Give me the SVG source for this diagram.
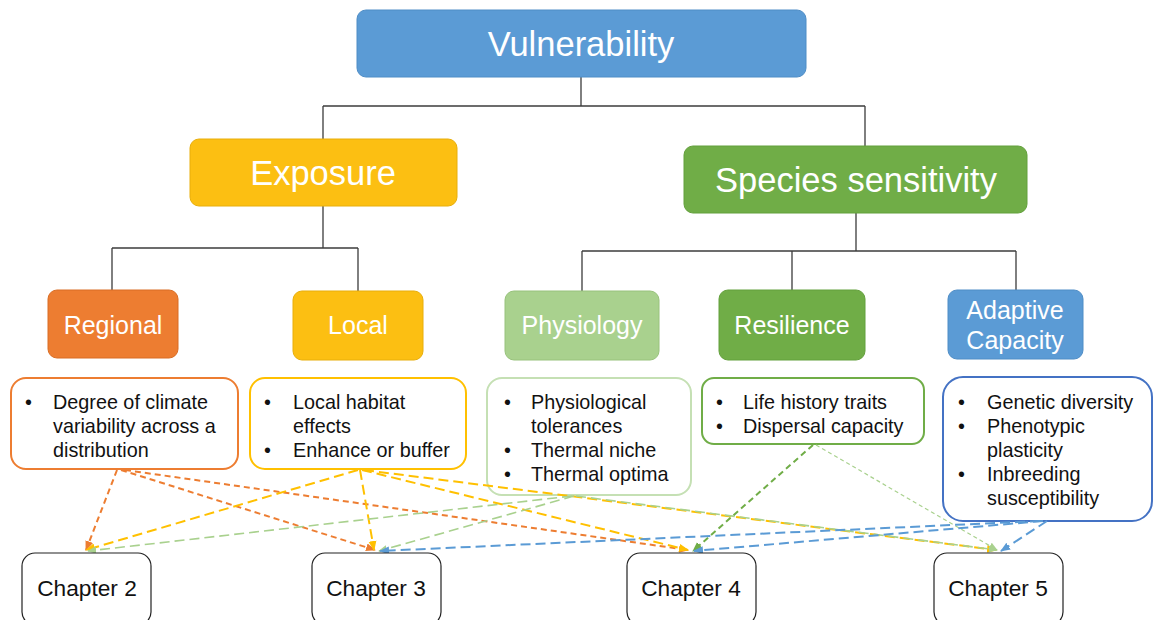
<svg xmlns="http://www.w3.org/2000/svg" width="1154" height="620" viewBox="0 0 1154 620">
  <style>
    text { font-family: "Liberation Sans", Arial, sans-serif; }
    .hdr { fill: #ffffff; text-anchor: middle; }
    .big { font-size: 34.5px; }
    .mid { font-size: 25px; }
    .item { font-size: 19.8px; fill: #111111; }
    .chap { font-size: 22.7px; fill: #111111; text-anchor: middle; }
    .tree { fill: none; stroke: #3c3c3c; stroke-width: 1.3; }
    .note { fill: #ffffff; stroke-width: 2; }
    .chbox { fill: #ffffff; stroke: #222222; stroke-width: 1.2; }
    .link { fill: none; stroke-width: 2; }
    .orange { stroke: #ED7D31; stroke-dasharray: 6 4; }
    .gold { stroke: #FFC000; stroke-dasharray: 10 5; }
    .pale { stroke: #A9D18E; stroke-dasharray: 10 5; stroke-width: 1.6; }
    .palethin { stroke: #A9D18E; stroke-dasharray: 4 3; stroke-width: 1.2; }
    .green { stroke: #70AD47; stroke-dasharray: 6 4; }
    .blue { stroke: #5B9BD5; stroke-dasharray: 10 5; }
  </style>
  <defs>
    <marker id="ah-orange" markerUnits="userSpaceOnUse" markerWidth="10" markerHeight="10" viewBox="0 0 10 10" refX="9" refY="5" orient="auto"><path d="M0,1 L10,5 L0,9 Z" fill="#ED7D31"/></marker>
    <marker id="ah-gold" markerUnits="userSpaceOnUse" markerWidth="10" markerHeight="10" viewBox="0 0 10 10" refX="9" refY="5" orient="auto"><path d="M0,1 L10,5 L0,9 Z" fill="#FFC000"/></marker>
    <marker id="ah-pale" markerUnits="userSpaceOnUse" markerWidth="9" markerHeight="9" viewBox="0 0 10 10" refX="9" refY="5" orient="auto"><path d="M0,1 L10,5 L0,9 Z" fill="#A9D18E"/></marker>
    <marker id="ah-green" markerUnits="userSpaceOnUse" markerWidth="10" markerHeight="10" viewBox="0 0 10 10" refX="9" refY="5" orient="auto"><path d="M0,1 L10,5 L0,9 Z" fill="#70AD47"/></marker>
    <marker id="ah-blue" markerUnits="userSpaceOnUse" markerWidth="10" markerHeight="10" viewBox="0 0 10 10" refX="9" refY="5" orient="auto"><path d="M0,1 L10,5 L0,9 Z" fill="#5B9BD5"/></marker>
  </defs>

  <rect width="1154" height="620" fill="#ffffff"/>

  <!-- hierarchy lines -->
  <g id="tree-lines" class="tree">
    <path d="M581,77 V106 M323,106 H865 M323,106 V139 M865,106 V146"/>
    <path d="M323,206 V248 M112,248 H358 M112,248 V290 M358,248 V291"/>
    <path d="M856,213 V251 M582,251 H1016 M582,251 V291 M792,251 V290 M1016,251 V290"/>
  </g>

  <!-- top level -->
  <g id="vulnerability">
    <rect x="357" y="10" width="449" height="67" rx="9" fill="#5B9BD5" stroke="#4f8dc6" stroke-width="1"/>
    <text class="hdr big" x="581" y="56">Vulnerability</text>
  </g>

  <!-- second level -->
  <g id="exposure">
    <rect x="190" y="139" width="267" height="67" rx="9" fill="#FCBF12" stroke="#e8ae0a" stroke-width="1"/>
    <text class="hdr big" x="323" y="185">Exposure</text>
  </g>
  <g id="species-sensitivity">
    <rect x="684" y="146" width="343" height="67" rx="9" fill="#70AD47" stroke="#63a03c" stroke-width="1"/>
    <text class="hdr big" x="856" y="192">Species sensitivity</text>
  </g>

  <!-- third level -->
  <g id="regional">
    <rect x="48" y="290" width="130" height="68" rx="9" fill="#ED7D31" stroke="#d96d24" stroke-width="1"/>
    <text class="hdr mid" x="113" y="334">Regional</text>
  </g>
  <g id="local">
    <rect x="293" y="291" width="130" height="69" rx="9" fill="#FCBF12" stroke="#e8ae0a" stroke-width="1"/>
    <text class="hdr mid" x="358" y="334">Local</text>
  </g>
  <g id="physiology">
    <rect x="505" y="291" width="154" height="69" rx="9" fill="#A9D18E" stroke="#98c27c" stroke-width="1"/>
    <text class="hdr mid" x="582" y="334">Physiology</text>
  </g>
  <g id="resilience">
    <rect x="719" y="290" width="146" height="70" rx="9" fill="#70AD47" stroke="#63a03c" stroke-width="1"/>
    <text class="hdr mid" x="792" y="334">Resilience</text>
  </g>
  <g id="adaptive-capacity">
    <rect x="948" y="290" width="135" height="69" rx="9" fill="#5B9BD5" stroke="#4f8dc6" stroke-width="1"/>
    <text class="hdr mid" x="1015" y="319">Adaptive</text>
    <text class="hdr mid" x="1015" y="349">Capacity</text>
  </g>

  <!-- detail lists -->
  <g id="regional-notes">
    <rect class="note" x="11" y="378" width="227" height="91" rx="15" stroke="#ED7D31"/>
    <text class="item" x="25" y="409">•</text>
    <text class="item" x="53" y="409">Degree of climate</text>
    <text class="item" x="53" y="433">variability across a</text>
    <text class="item" x="53" y="457">distribution</text>
  </g>
  <g id="local-notes">
    <rect class="note" x="250" y="378" width="216" height="91" rx="15" stroke="#FFC000"/>
    <text class="item" x="264" y="409">•</text>
    <text class="item" x="293" y="409">Local habitat</text>
    <text class="item" x="293" y="433">effects</text>
    <text class="item" x="264" y="457">•</text>
    <text class="item" x="293" y="457">Enhance or buffer</text>
  </g>
  <g id="physiology-notes">
    <rect class="note" x="487" y="378" width="204" height="117" rx="15" stroke="#C5E0B4"/>
    <text class="item" x="504" y="409">•</text>
    <text class="item" x="531" y="409">Physiological</text>
    <text class="item" x="531" y="433">tolerances</text>
    <text class="item" x="504" y="457">•</text>
    <text class="item" x="531" y="457">Thermal niche</text>
    <text class="item" x="504" y="481">•</text>
    <text class="item" x="531" y="481">Thermal optima</text>
  </g>
  <g id="resilience-notes">
    <rect class="note" x="702" y="378" width="222" height="66" rx="12" stroke="#70AD47"/>
    <text class="item" x="716" y="409">•</text>
    <text class="item" x="743" y="409">Life history traits</text>
    <text class="item" x="716" y="433">•</text>
    <text class="item" x="743" y="433">Dispersal capacity</text>
  </g>
  <g id="adaptive-notes">
    <rect class="note" x="943" y="377" width="209" height="144" rx="20" stroke="#4472C4"/>
    <text class="item" x="958" y="409">•</text>
    <text class="item" x="987" y="409">Genetic diversity</text>
    <text class="item" x="958" y="433">•</text>
    <text class="item" x="987" y="433">Phenotypic</text>
    <text class="item" x="987" y="457">plasticity</text>
    <text class="item" x="958" y="481">•</text>
    <text class="item" x="987" y="481">Inbreeding</text>
    <text class="item" x="987" y="505">susceptibility</text>
  </g>

  <!-- links from the lists to the chapters -->
  <g id="links" class="link">
    <line class="orange" x1="117" y1="470" x2="86" y2="550" marker-end="url(#ah-orange)"/>
    <line class="orange" x1="121" y1="470" x2="375" y2="550" marker-end="url(#ah-orange)"/>
    <line class="orange" x1="125" y1="470" x2="688" y2="550" marker-end="url(#ah-orange)"/>

    <line class="gold" x1="358" y1="470" x2="86" y2="550" marker-end="url(#ah-gold)"/>
    <line class="gold" x1="360" y1="470" x2="374" y2="550" marker-end="url(#ah-gold)"/>
    <line class="gold" x1="362" y1="470" x2="688" y2="550" marker-end="url(#ah-gold)"/>
    <line class="gold" x1="364" y1="470" x2="996" y2="550" marker-end="url(#ah-gold)"/>

    <line class="pale" x1="572" y1="496" x2="88" y2="551" marker-end="url(#ah-pale)"/>
    <line class="pale" x1="574" y1="496" x2="379" y2="551" marker-end="url(#ah-pale)"/>
    <line class="pale" x1="576" y1="496" x2="997" y2="550" marker-end="url(#ah-pale)"/>

    <line class="green" x1="813" y1="445" x2="693" y2="551" marker-end="url(#ah-green)"/>
    <line class="palethin" x1="816" y1="445" x2="997" y2="550" marker-end="url(#ah-pale)"/>

    <line class="blue" x1="1040" y1="521" x2="380" y2="551" marker-end="url(#ah-blue)"/>
    <line class="blue" x1="1043" y1="521" x2="694" y2="551" marker-end="url(#ah-blue)"/>
    <line class="blue" x1="1047" y1="521" x2="1001" y2="551" marker-end="url(#ah-blue)"/>
  </g>

  <!-- chapters -->
  <g id="chapter-2">
    <rect class="chbox" x="22" y="553" width="129" height="72" rx="13"/>
    <text class="chap" x="87" y="596">Chapter 2</text>
  </g>
  <g id="chapter-3">
    <rect class="chbox" x="312" y="553" width="129" height="72" rx="13"/>
    <text class="chap" x="376" y="596">Chapter 3</text>
  </g>
  <g id="chapter-4">
    <rect class="chbox" x="627" y="553" width="129" height="72" rx="13"/>
    <text class="chap" x="691" y="596">Chapter 4</text>
  </g>
  <g id="chapter-5">
    <rect class="chbox" x="934" y="553" width="129" height="72" rx="13"/>
    <text class="chap" x="998" y="596">Chapter 5</text>
  </g>
</svg>
